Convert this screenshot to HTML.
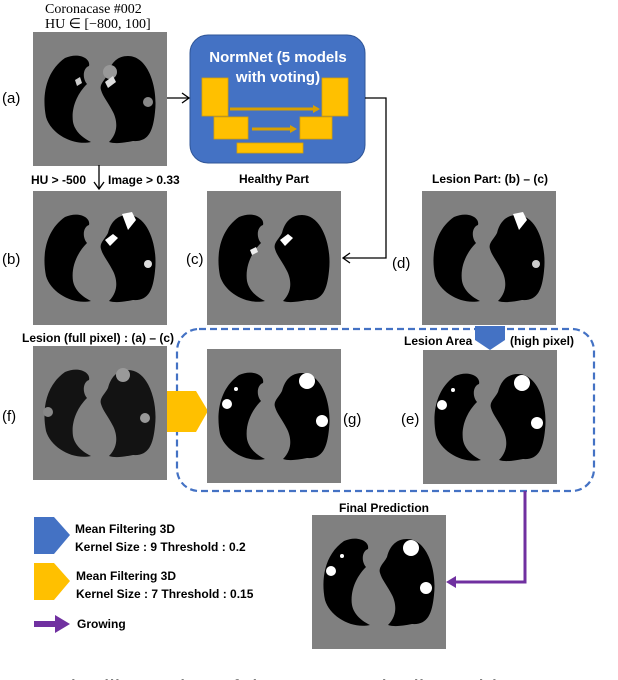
<!DOCTYPE html>
<html><head><meta charset="utf-8"><style>
body{margin:0;background:#fff;}
svg{display:block;font-family:"Liberation Sans",sans-serif;}
.b{font-weight:bold;font-size:12px;fill:#000;}
.l{font-size:15px;fill:#000;}
</style></head><body>
<svg width="618" height="680" viewBox="0 0 618 680" xmlns="http://www.w3.org/2000/svg">
<defs>
<g id="lungs">
<rect width="134" height="134" fill="#808080"/>
<path d="M32,26 C45,20 58,26 56,34 C50,36 49,46 54,52 C44,62 38,76 40,90 C42,100 50,106 58,110 C40,114 18,102 13,85 C9,65 12,40 32,26Z" fill="#000"/>
<path d="M95,24 C115,24 125,55 122,80 C120,100 115,110 100,109 C90,111 82,112 76,110 C86,100 84,88 80,80 C75,70 70,65 68,58 C66,52 72,48 75,42 C78,30 85,24 95,24Z" fill="#000"/>
</g>
</defs>
<text x="45" y="13" font-family="Liberation Serif" font-size="14">Coronacase #002</text>
<text x="45" y="28" font-family="Liberation Serif" font-size="14">HU ∈ [−800, 100]</text>
<use href="#lungs" x="33" y="32"/>
<circle cx="110" cy="72" r="7" fill="#999"/><circle cx="148" cy="102" r="5" fill="#888"/><path d="M105,82 l8,-6 l3,6 l-8,6z" fill="#ddd"/><path d="M75,80 l5,-3 l2,6 l-5,3z" fill="#ccc"/>
<text x="2" y="103" class="l">(a)</text>
<rect x="190" y="35" width="175" height="128" rx="18" fill="#4472c4" stroke="#2f5597" stroke-width="1"/>
<text x="278" y="62" text-anchor="middle" fill="#fff" font-weight="bold" font-size="15">NormNet (5 models</text>
<text x="278" y="82" text-anchor="middle" fill="#fff" font-weight="bold" font-size="15">with voting)</text>
<g fill="#ffc000" stroke="#d9a000" stroke-width="0.8">
<rect x="202" y="78" width="26" height="38"/><rect x="322" y="78" width="26" height="38"/>
<rect x="214" y="117" width="34" height="22"/><rect x="300" y="117" width="32" height="22"/>
<rect x="237" y="143" width="66" height="10"/>
</g>
<line x1="230" y1="109" x2="318" y2="109" stroke="#d9a000" stroke-width="3"/><polygon points="320,109 313,105 313,113" fill="#d9a000"/>
<line x1="252" y1="129" x2="293" y2="129" stroke="#d9a000" stroke-width="3"/><polygon points="297,129 290,125 290,133" fill="#d9a000"/>
<line x1="167" y1="98" x2="189" y2="98" stroke="#000" stroke-width="1.3"/><path d="M182,93 L189,98 L182,103" fill="none" stroke="#000" stroke-width="1.3"/>
<polyline points="365,98 386,98 386,258 344,258" fill="none" stroke="#000" stroke-width="1.3"/><path d="M350,253 L343,258 L350,263" fill="none" stroke="#000" stroke-width="1.3"/>
<line x1="99" y1="165" x2="99" y2="189" stroke="#000" stroke-width="1.3"/><path d="M94,182 L99,189 L104,182" fill="none" stroke="#000" stroke-width="1.3"/>
<text x="31" y="184" class="b">HU &gt; -500</text><text x="108" y="184" class="b">Image &gt; 0.33</text>
<text x="274" y="183" class="b" text-anchor="middle">Healthy Part</text>
<text x="490" y="183" class="b" text-anchor="middle">Lesion Part: (b) – (c)</text>
<use href="#lungs" x="33" y="191"/>
<path d="M122,214 l10,-2 l4,8 l-8,10 z" fill="#fff"/><path d="M105,240 l8,-6 l5,4 l-8,8z" fill="#fff"/><circle cx="148" cy="264" r="4" fill="#ddd"/>
<use href="#lungs" x="207" y="191"/>
<path d="M280,240 l8,-6 l5,4 l-8,8z" fill="#fff"/><path d="M250,250 l6,-3 l2,5 l-6,3z" fill="#eee"/>
<use href="#lungs" x="422" y="191"/>
<path d="M513,214 l10,-2 l4,8 l-8,10 z" fill="#fff"/><circle cx="536" cy="264" r="4" fill="#ccc"/>
<text x="2" y="264" class="l">(b)</text><text x="186" y="264" class="l">(c)</text><text x="392" y="268" class="l">(d)</text>
<rect x="177" y="329" width="417" height="162" rx="22" fill="none" stroke="#4472c4" stroke-width="2.2" stroke-dasharray="7,4"/>
<text x="22" y="342" class="b">Lesion (full pixel) : (a) – (c)</text>
<text x="404" y="345" class="b">Lesion Area</text><text x="510" y="345" class="b">(high pixel)</text>
<polygon points="475,326 505,326 505,340 490,350 475,340" fill="#4472c4"/>
<use href="#lungs" x="33" y="346"/>
<rect x="33" y="346" width="134" height="134" fill="#808080" opacity="0.15"/>
<circle cx="123" cy="375" r="7" fill="#999"/><circle cx="145" cy="418" r="5" fill="#999"/><circle cx="48" cy="412" r="5" fill="#888"/>
<text x="2" y="421" class="l">(f)</text>
<polygon points="167,391 196,391 208,411 196,432 167,432" fill="#ffc000"/>
<use href="#lungs" x="207" y="349"/>
<circle cx="307" cy="381" r="8" fill="#fff"/><circle cx="322" cy="421" r="6" fill="#fff"/><circle cx="227" cy="404" r="5" fill="#fff"/><circle cx="236" cy="389" r="2" fill="#fff"/>
<text x="343" y="424" class="l">(g)</text>
<use href="#lungs" x="423" y="350"/>
<circle cx="522" cy="383" r="8" fill="#fff"/><circle cx="537" cy="423" r="6" fill="#fff"/><circle cx="442" cy="405" r="5" fill="#fff"/><circle cx="453" cy="390" r="2" fill="#fff"/>
<text x="401" y="424" class="l">(e)</text>
<polyline points="525,491 525,582 454,582" fill="none" stroke="#7030a0" stroke-width="3"/>
<polygon points="446,582 456,576 456,588" fill="#7030a0"/>
<text x="384" y="512" class="b" text-anchor="middle">Final Prediction</text>
<use href="#lungs" x="312" y="515"/>
<circle cx="411" cy="548" r="8" fill="#fff"/><circle cx="426" cy="588" r="6" fill="#fff"/><circle cx="331" cy="571" r="5" fill="#fff"/><circle cx="342" cy="556" r="2" fill="#fff"/>
<polygon points="34,517 54,517 70,535 54,554 34,554" fill="#4472c4"/>
<text x="75" y="533" class="b">Mean Filtering 3D</text><text x="75" y="551" class="b">Kernel Size : 9 Threshold : 0.2</text>
<polygon points="34,563 54,563 70,581 54,600 34,600" fill="#ffc000"/>
<text x="76" y="580" class="b">Mean Filtering 3D</text><text x="76" y="598" class="b">Kernel Size : 7 Threshold : 0.15</text>
<rect x="34" y="621" width="22" height="6" fill="#7030a0"/><polygon points="55,615 70,624 55,633" fill="#7030a0"/>
<text x="77" y="628" class="b">Growing</text>
<text x="56" y="697" font-size="24" fill="#000">The illustration of the system pipeline. This st</text>
</svg>
</body></html>
